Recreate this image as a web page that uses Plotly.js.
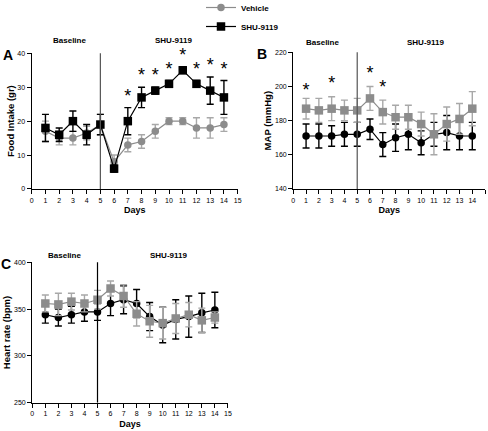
<!DOCTYPE html>
<html><head><meta charset="utf-8">
<script src="https://cdn.plot.ly/plotly-3.0.1.min.js"></script>
<style>html,body{margin:0;padding:0;background:#fff}#c{width:488px;height:431px}</style>
</head><body><div id="c"></div>
<script>
const days = [1,2,3,4,5,6,7,8,9,10,11,12,13,14];
const xTicks = [0,1,2,3,4,5,6,7,8,9,10,11,12,13,14,15];

// Panel A: Food intake (gr)
const foodVehicle = [17,15,15,16.5,19,8,13,14,17,20,20,18,18,19];
const foodVehicleErr = [3,2,2,2,3,2,2,2,2,1,1,3,3,2];
const foodShu = [18,16,20,16,19,6,20,27,29,31,35,31,29,27];
const foodShuErr = [4,2,3,3,3,1,4,3,1,1,1,1,4,5];
const foodStarDays = [7,8,9,10,11,12,13,14];
const foodStarY = [27,33.3,33.3,35,39,35,36,35];

// Panel B: MAP (mmHg)
const mapGray = [187,186,187,186,186,193,185,182,182,178,172,178,181,187];
const mapGrayErr = [6,7,7,6,7,7,7,7,7,7,12,10,9,10];
const mapBlack = [171,171,171,172,172,175,166,170,172,167,172,173,171,171];
const mapBlackErr = [7,7,6,7,7,6,7,8,9,7,7,10,8,8];
const mapStarDays = [1,3,6,7];
const mapStarY = [197.3,201.3,206.7,198.7];

// Panel C: Heart rate (bpm)
const hrGray = [356,355,358,356,360,372,364,345,337,335,340,344,338,341];
const hrGrayErr = [9,12,9,9,10,8,12,13,17,17,16,13,13,6];
const hrBlack = [344,341,344,347,347,356,360,356,342,333,339,342,346,349];
const hrBlackErr = [9,9,9,10,9,13,15,15,15,19,21,22,21,19];

const GRAY = '#8c8c8c', GRAYERR = '#a8a8a8', BLACK = '#000';

function series(x, y, err, color, ecolor, symbol, size, xa, ya, name, showlegend) {
  return {x, y, type:'scatter', mode:'lines+markers', name, showlegend,
    xaxis:xa, yaxis:ya, cliponaxis:false,
    line:{color, width:1.2},
    marker:{color, symbol, size, line:{width:0}},
    error_y:{type:'data', array:err, visible:true, color:ecolor, thickness:1.4, width:3.5}};
}
function stars(x, y, xa, ya) {
  return {x, y, type:'scatter', mode:'text', text:x.map(()=>'*'), showlegend:false,
    xaxis:xa, yaxis:ya, textposition:'middle center', cliponaxis:false,
    textfont:{family:'Liberation Sans, Arial, sans-serif', size:18, color:'#000'}, hoverinfo:'skip'};
}

const traces = [
  series(days, foodVehicle, foodVehicleErr, GRAY, GRAYERR, 'circle', 7.5, 'x', 'y', 'Vehicle', true),
  series(days, foodShu, foodShuErr, BLACK, BLACK, 'square', 8.5, 'x', 'y', 'SHU-9119', true),
  stars(foodStarDays, foodStarY, 'x', 'y'),
  series(days, mapBlack, mapBlackErr, BLACK, BLACK, 'circle', 7.5, 'x2', 'y2', 'b', false),
  series(days, mapGray, mapGrayErr, GRAY, GRAYERR, 'square', 8.5, 'x2', 'y2', 'a', false),
  stars(mapStarDays, mapStarY, 'x2', 'y2'),
  series(days, hrBlack, hrBlackErr, BLACK, BLACK, 'circle', 7.5, 'x3', 'y3', 'd', false),
  series(days, hrGray, hrGrayErr, GRAY, GRAYERR, 'square', 8.5, 'x3', 'y3', 'c', false)
];

const F = 'Liberation Sans, Arial, sans-serif';
function xax(domain, anchor) {
  return {domain, anchor, range:[0,15], tickvals:xTicks, ticktext:xTicks.map(String),
    showline:true, linecolor:'#000', linewidth:1.2, ticks:'outside', ticklen:4, tickwidth:1, tickcolor:'#000',
    showgrid:false, zeroline:false, tickfont:{family:F, size:7, color:'#000'},
    title:{text:'<b>Days</b>', font:{family:F, size:9, color:'#000'}, standoff:4}};
}
function yax(domain, anchor, range, dtick, title) {
  return {domain, anchor, range, dtick, tick0:range[0],
    showline:true, linecolor:'#000', linewidth:1.2, ticks:'outside', ticklen:4, tickwidth:1, tickcolor:'#000',
    showgrid:false, zeroline:false, tickfont:{family:F, size:7, color:'#000'},
    title:{text:'<b>'+title+'</b>', font:{family:F, size:9.5, color:'#000'}, standoff:1}};
}
function lbl(text, x, y, size) {
  return {text:'<b>'+text+'</b>', x:x/488, y:1-y/431, xref:'paper', yref:'paper', showarrow:false,
    font:{family:F, size:size||8, color:'#000'}, xanchor:'center', yanchor:'middle'};
}

const layout = {
  width:488, height:431, margin:{l:0,r:0,t:0,b:0,autoexpand:false},
  paper_bgcolor:'#fff', plot_bgcolor:'rgba(0,0,0,0)',
  xaxis: xax([0.065,0.487],'y'),
  yaxis: yax([0.5615,0.8763],'x',[0,40],10,'Food Intake (gr)'),
  xaxis2: xax([0.601,0.994],'y2'),
  yaxis2: yax([0.5615,0.8787],'x2',[140,220],20,'MAP (mmHg)'),
  xaxis3: xax([0.0662,0.467],'y3'),
  yaxis3: yax([0.0657,0.3914],'x3',[250,400],50,'Heart rate (bpm)'),
  showlegend:true,
  legend:{x:201/488, y:1+7/431, xanchor:'left', yanchor:'top', bgcolor:'rgba(0,0,0,0)',
    font:{family:F, size:8, color:'#000', weight:'bold'}, itemwidth:30, tracegroupgap:0},
  shapes:[
    {type:'line', xref:'x', yref:'y', x0:5, x1:5, y0:0, y1:41, line:{color:'#555', width:1.2}},
    {type:'line', xref:'x2', yref:'y2', x0:5, x1:5, y0:140, y1:222, line:{color:'#555', width:1.2}},
    {type:'line', xref:'x3', yref:'y3', x0:5, x1:5, y0:250, y1:403, line:{color:'#000', width:1.2}}
  ],
  annotations:[
    lbl('Baseline',69,41), lbl('SHU-9119',173,41),
    lbl('Baseline',322,43), lbl('SHU-9119',425,43),
    lbl('Baseline',64,255), lbl('SHU-9119',168,255),
    lbl('A',8,55,14), lbl('B',262,54,14), lbl('C',6,264,14)
  ]
};
Plotly.newPlot('c', traces, layout, {staticPlot:true, displayModeBar:false});
</script></body></html>
